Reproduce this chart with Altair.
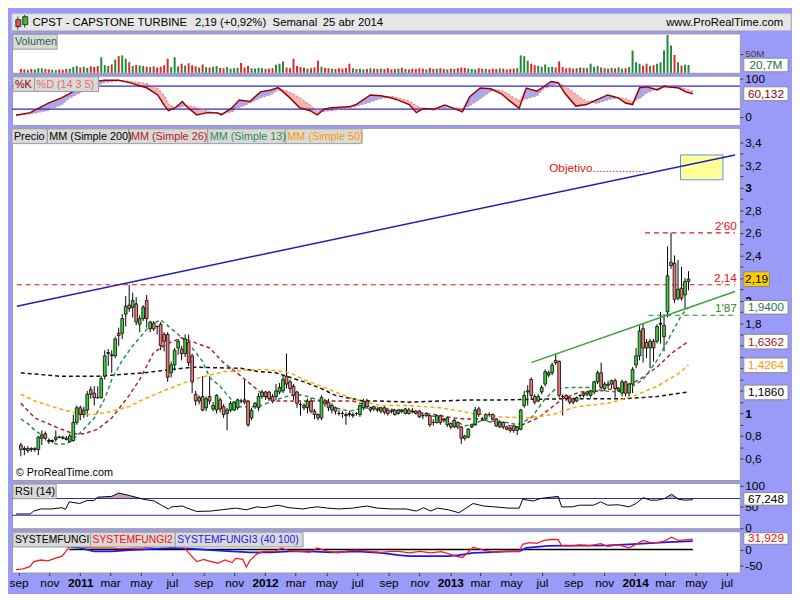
import altair as alt
import pandas as pd

FONT = "Liberation Sans"

# ---------------- weekly candles (CPST, Semanal) ----------------
first_week = "2010-08-27"
opens = [0.72,0.69,0.67,0.69,0.68,0.68,0.78,0.82,0.76,0.75,
         0.77,0.79,0.79,0.78,0.75,0.76,0.92,1.05,0.99,1.03,
         1.21,1.18,1.14,1.14,1.33,1.53,1.52,1.51,1.71,1.71,
         1.88,1.96,1.94,1.97,1.79,1.84,2.00,1.75,1.80,1.77,
         1.79,1.70,1.70,1.36,1.43,1.58,1.57,1.53,1.63,1.51,
         1.17,1.11,
         1.15,1.05,1.15,1.04,1.03,1.12,1.06,1.00,1.03,1.03,
         1.05,1.11,1.12,1.11,0.96,1.06,1.05,1.15,1.19,1.19,
         1.15,1.15,1.19,1.20,1.33,1.28,1.24,1.19,1.08,1.07,
         1.05,1.11,1.02,0.99,0.96,1.11,1.10,1.03,1.05,1.00,
         1.00,0.99,1.00,0.98,1.00,0.99,1.05,1.11,1.03,1.06,
         1.04,
         1.02,1.05,1.03,1.02,1.03,1.00,1.03,1.00,1.03,1.02,
         1.02,1.02,0.98,0.98,0.98,0.92,0.92,0.98,0.95,0.90,
         0.91,0.88,0.92,0.88,0.80,0.79,0.88,0.90,1.04,0.95,
         0.95,0.99,0.99,0.95,0.88,0.92,0.88,0.87,0.89,0.85,
         0.86,1.07,1.19,1.30,1.15,1.11,1.19,1.26,1.34,1.36,
         1.47,1.46,1.15,1.16,1.14,1.13,1.11,1.16,1.16,1.19,
         1.16,1.19,1.28,1.36,1.22,
         1.26,
         1.26,1.29,1.20,1.18,1.28,1.18,1.26,1.43,1.51,1.75,
         1.63,1.58,1.64,1.64,1.79,1.68,1.90,2.31,2.33,2.02,
         2.11,2.05,2.17]
highs = [0.74,0.71,0.71,0.70,0.70,0.80,0.85,0.84,0.78,0.77,
         0.85,0.80,0.80,0.80,0.82,0.99,1.07,1.07,1.06,1.20,
         1.24,1.24,1.24,1.33,1.56,1.57,1.56,1.68,1.76,1.88,
         2.04,2.14,2.07,2.03,1.87,1.96,2.05,1.82,1.82,1.78,
         1.81,1.72,1.72,1.46,1.58,1.66,1.60,1.70,1.70,1.53,
         1.20,1.16,
         1.33,1.15,1.33,1.10,1.17,1.14,1.08,1.05,1.11,1.11,
         1.13,1.13,1.30,1.12,1.05,1.10,1.18,1.21,1.20,1.20,
         1.17,1.26,1.27,1.33,1.53,1.30,1.26,1.20,1.10,1.09,
         1.13,1.14,1.04,1.00,1.16,1.13,1.13,1.09,1.06,1.03,
         1.02,1.01,1.02,1.01,1.01,1.08,1.13,1.13,1.06,1.07,
         1.06,
         1.06,1.07,1.05,1.04,1.04,1.04,1.04,1.05,1.05,1.05,
         1.03,1.03,1.00,1.01,0.99,0.95,0.99,0.99,0.96,0.97,
         0.92,0.95,0.93,0.89,0.81,0.87,0.91,1.06,1.06,0.97,
         1.00,1.01,1.00,0.96,0.94,0.93,0.89,0.88,0.90,0.89,
         1.04,1.20,1.25,1.32,1.17,1.17,1.25,1.39,1.38,1.45,
         1.53,1.47,1.17,1.17,1.15,1.14,1.15,1.17,1.19,1.20,
         1.21,1.29,1.38,1.45,1.28,
         1.29,
         1.30,1.31,1.23,1.30,1.29,1.27,1.41,1.58,1.78,1.80,
         1.66,1.66,1.66,1.79,1.90,1.88,2.48,2.60,2.40,2.36,
         2.30,2.20,2.26]
lows = [0.62,0.63,0.65,0.66,0.66,0.63,0.72,0.76,0.73,0.74,
        0.75,0.78,0.77,0.76,0.74,0.75,0.90,0.94,0.96,0.97,
        1.13,1.07,1.13,1.13,1.30,1.42,1.36,1.49,1.60,1.66,
        1.77,1.90,1.85,1.78,1.72,1.82,1.76,1.72,1.73,1.70,
        1.56,1.55,1.28,1.32,1.38,1.52,1.47,1.50,1.42,1.18,
        1.07,1.08,
        1.02,1.02,1.08,1.02,1.00,1.01,0.96,0.85,1.01,1.02,
        1.03,1.09,1.08,0.88,0.94,1.04,1.02,1.13,1.12,1.11,
        1.09,1.12,1.17,1.18,1.22,1.18,1.12,1.05,0.98,1.03,
        1.00,1.00,0.95,0.94,0.94,1.06,1.02,1.00,0.99,0.98,
        0.96,0.90,0.97,0.96,0.98,0.97,1.03,1.04,1.01,1.02,
        1.01,
        1.00,0.99,0.98,1.00,0.98,0.99,1.00,0.99,0.99,1.00,
        0.99,0.96,0.95,0.97,0.88,0.89,0.91,0.90,0.92,0.88,
        0.86,0.87,0.86,0.73,0.76,0.78,0.87,0.89,0.97,0.93,
        0.94,0.97,0.94,0.88,0.87,0.86,0.85,0.83,0.83,0.81,
        0.85,1.05,1.07,1.12,1.08,1.10,1.17,1.24,1.32,1.34,
        1.43,1.14,0.98,1.11,1.08,1.08,1.10,1.14,1.14,1.15,
        1.14,1.17,1.26,1.21,1.20,
        1.22,
        1.22,1.14,1.19,1.15,1.15,1.15,1.18,1.40,1.47,1.45,
        1.49,1.40,1.46,1.62,1.62,1.55,1.85,2.28,1.98,2.00,
        2.00,1.92,2.09]
closes = [0.68,0.68,0.69,0.68,0.69,0.79,0.81,0.78,0.75,0.76,
          0.79,0.79,0.78,0.77,0.80,0.92,1.05,0.99,1.03,1.17,
          1.17,1.14,1.14,1.31,1.51,1.54,1.51,1.66,1.69,1.84,
          1.95,1.93,2.00,1.81,1.84,1.94,1.84,1.81,1.75,1.77,
          1.60,1.64,1.32,1.43,1.56,1.64,1.53,1.66,1.45,1.28,
          1.11,1.14,
          1.03,1.13,1.11,1.07,1.16,1.04,0.99,1.03,1.09,1.10,
          1.12,1.11,1.10,0.90,1.03,1.09,1.15,1.19,1.15,1.13,
          1.11,1.20,1.23,1.30,1.26,1.22,1.16,1.09,1.08,1.05,
          1.11,1.02,0.99,0.96,1.14,1.09,1.05,1.07,1.02,1.00,
          1.00,0.98,0.99,0.99,1.00,1.07,1.11,1.06,1.05,1.04,
          1.03,
          1.05,1.01,1.00,1.02,0.99,1.03,1.02,1.04,1.00,1.02,
          1.00,0.97,0.98,1.00,0.90,0.92,0.98,0.92,0.94,0.96,
          0.88,0.94,0.88,0.78,0.78,0.86,0.90,1.03,0.99,0.95,
          0.99,0.99,0.95,0.89,0.92,0.88,0.86,0.85,0.85,0.88,
          1.03,1.16,1.20,1.16,1.10,1.15,1.23,1.37,1.36,1.43,
          1.45,1.16,1.15,1.13,1.10,1.10,1.14,1.16,1.18,1.17,
          1.20,1.28,1.36,1.23,1.26,
          1.25,
          1.29,1.22,1.22,1.28,1.18,1.26,1.39,1.51,1.73,1.58,
          1.58,1.64,1.58,1.77,1.80,1.78,2.22,2.34,2.01,2.10,
          2.02,2.17,2.19]
volumes_m = [10,9,8,10,9,12,12,10,9,8,7,9,8,10,11,
             15,18,14,16,13,17,16,18,
             41,
             20,18,22,
             35,44,46,37,28,18,21,19,18,
             16,15,17,14,16,20,
             37,
             15,41,17,24,19,25,20,17,
             14,
             22,15,14,16,18,13,12,15,11,12,13,
             26,
             14,18,12,11,13,12,10,11,12,
             21,24,30,14,12,
             37,
             18,15,13,11,12,14,
             32,
             16,13,12,11,10,12,11,13,
             24,
             12,10,11,9,10,12,11,
             10,
             11,10,12,9,10,11,13,10,9,11,10,12,11,9,13,10,11,12,10,9,
             11,10,12,14,13,11,10,9,12,11,10,9,11,10,12,11,9,10,11,12,
             46,44,32,24,20,18,16,22,15,16,14,30,15,12,13,11,12,14,13,12,24,16,18,14,12,
             11,
             13,12,14,11,12,15,
             59,28,24,19,24,18,20,24,28,59,100,72,47,28,19,21,20.7]

# moving averages (bar index, value)
ma200_idx = [0,11,22,35,49,63,68,73,77,81,86,90,95,98,103,111,120,129,138,155,173,182,191]
ma200_val = [1.36,1.33,1.33,1.36,1.41,1.40,1.37,1.36,1.32,1.28,1.22,1.16,1.13,1.11,1.11,1.10,1.11,1.12,1.12,1.13,1.13,1.15,1.19]
ma26_idx = [0,4,10,15,18,22,26,31,34,38,42,46,54,58,63,68,70,73,77,86,95,100,103,111,118,124,127,131,136,142,148,155,160,166,173,177,182,186,191]
ma26_val = [1.09,0.96,0.88,0.82,0.82,0.86,0.96,1.16,1.30,1.54,1.62,1.67,1.58,1.45,1.33,1.20,1.15,1.11,1.11,1.11,1.11,1.06,1.03,1.02,0.99,0.96,0.95,0.95,0.91,0.88,0.96,1.13,1.19,1.20,1.24,1.30,1.41,1.53,1.64]
ma13_idx = [0,2,4,7,10,13,15,18,21,24,26,29,32,34,37,40,45,49,52,54,57,60,62,68,72,77,79,82,86,90,94,98,102,111,116,120,125,127,129,132,136,139,142,146,150,153,157,164,166,171,175,178,182,186,189,191]
ma13_val = [0.95,0.91,0.85,0.79,0.73,0.73,0.77,0.86,0.96,1.13,1.30,1.47,1.60,1.67,1.78,1.83,1.70,1.58,1.46,1.32,1.24,1.13,1.06,1.06,1.11,1.16,1.17,1.15,1.11,1.05,1.02,1.05,1.05,1.02,0.99,0.96,0.92,0.89,0.90,0.94,0.93,0.92,0.90,0.96,1.13,1.22,1.23,1.23,1.20,1.19,1.24,1.30,1.47,1.70,1.87,1.94]
ma50_idx = [0,4,10,15,18,21,26,31,34,40,49,58,68,73,77,81,86,90,95,100,103,111,120,126,129,133,137,145,152,159,168,175,182,188,191]
ma50_val = [1.17,1.11,1.05,1.01,0.99,0.99,1.02,1.06,1.11,1.19,1.30,1.37,1.39,1.38,1.36,1.30,1.24,1.19,1.13,1.09,1.07,1.07,1.05,1.02,1.00,0.99,0.97,0.96,0.99,1.06,1.09,1.15,1.24,1.35,1.43]

# stochastic %K (14 3 5)
k_idx = [0,4,9,13,15,18,20,23,25,29,32,37,40,42,43,45,47,48,51,54,57,58,61,63,66,69,72,74,77,80,83,85,87,89,94,96,100,103,106,108,111,113,115,118,121,124,126,128,131,134,137,139,142,144,147,149,151,153,155,158,161,164,167,170,172,174,176,178,181,183,184,187,189,191]
k_val = [4,11,35,50,60,76,80,93,95,95,89,75,57,28,16,24,40,28,5,11,10,5,24,44,40,65,70,76,52,24,16,5,20,24,26,32,57,55,49,43,32,11,22,20,31,20,13,52,75,73,60,44,22,75,67,79,92,89,60,28,32,45,57,49,36,32,76,78,70,80,78,75,65,60]

# RSI (14)
rsi_idx = [0,4,5,7,10,13,14,15,18,20,22,23,27,29,32,36,39,41,43,44,47,48,51,55,58,62,65,68,70,74,77,81,83,85,88,91,95,99,102,106,110,113,115,117,119,122,125,127,129,132,135,139,142,143,146,148,151,153,154,157,159,163,165,167,170,173,175,177,179,181,183,185,187,189,191]
rsi_val = [33,33,40,45,45,48,44,62,58,65,65,73,75,83,77,68,64,54,45,50,52,48,39,40,43,47,43,50,48,54,48,45,48,50,47,45,47,52,47,45,45,40,48,40,47,43,36,47,58,52,50,47,47,68,64,70,73,75,50,50,54,54,62,54,55,50,58,72,66,66,70,80,68,66,67.2]

# SYSTEMFUNGI2 (red) and SYSTEMFUNGI3 (40 100) (blue)
sf2_idx = [0,2,4,5,7,9,11,13,15,16,18,21,24,27,29,36,41,44,47,49,51,53,54,57,59,61,62,64,65,66,68,70,73,75,77,80,83,85,88,91,94,96,100,103,106,108,111,114,117,120,122,124,126,127,129,132,135,137,139,142,143,145,147,149,151,153,154,157,159,162,165,167,170,173,175,177,179,181,183,185,187,189,191]
sf2_val = [-63,-61,-53,-38,-33,-36,-28,-21,7,11,9,5,5,5,2,5,11,11,11,-14,-38,-31,-35,-43,-33,-41,-28,-31,-55,-35,-14,-6,-6,5,-4,-6,-9,5,-6,-11,-4,-2,-6,-9,-6,-6,-11,-6,-11,-7,-13,-21,-25,-15,7,-2,-9,-6,-6,-6,16,21,19,28,31,31,11,11,14,12,18,10,14,5,16,28,21,21,26,38,28,30,32]
sf3_idx = [13,15,18,22,27,32,39,44,50,55,61,66,72,77,83,89,96,103,108,111,117,122,125,129,133,139,142,144,150,155,161,167,173,178,184,191]
sf3_val = [11,9,5,-6,-6,-2,2,5,2,-2,-6,-9,-9,-6,-6,-9,-6,-11,-18,-21,-21,-21,-18,-11,-9,-6,-6,5,11,12,12,13,16,19,23,26]

# ---------------------------------------------------------------
start = pd.Timestamp(first_week)


def wk(i):
    return (start + pd.Timedelta(days=7 * i)).strftime("%Y-%m-%d")


dates = [wk(i) for i in range(len(closes))]
ohlc = pd.DataFrame({"date": dates, "o": opens, "h": highs, "l": lows,
                     "c": closes, "vol": volumes_m})

W = 740
H_HDR, H_VOL, H_K, H_P, H_RSI, H_SF = 17, 40, 50, 358, 46, 42
GREEN, RED = "#3fd03f", "#f07a7a"
VGREEN, VRED = "#1f8a3a", "#e02626"

xscale = alt.Scale(type="utc", domain=[alt.DateTime(year=2010, month=8, date=19, utc=True),
                                        alt.DateTime(year=2014, month=7, date=27, utc=True)])

tick_vals = []
for yy in range(2010, 2015):
    for mm in (1, 3, 5, 7, 9, 11):
        if (yy == 2010 and mm < 9) or (yy == 2014 and mm > 7):
            continue
        tick_vals.append(alt.DateTime(year=yy, month=mm, date=1, utc=True))

xaxis = alt.Axis(values=tick_vals, title=None, grid=False, domain=False,
                 labelExpr="utcmonth(datum.value) == 0 ? utcFormat(datum.value, '%Y') : "
                           "['ene','feb','mar','abr','may','jun','jul','ago','sep','oct','nov','dic'][utcmonth(datum.value)]",
                 labelFontWeight={"condition": {"test": "utcmonth(datum.value) == 0", "value": "bold"},
                                  "value": "normal"},
                 labelFont=FONT, labelFontSize=12, labelColor="black", tickSize=3,
                 tickColor="#333333", labelFlush=False, labelOverlap=False, labelPadding=2)


def X(field="date", axis=None):
    return alt.X(f"{field}:T", scale=xscale, axis=axis, title=None)


def raxis(values, expr, size=12, color="black", bold_test=None):
    kw = dict(orient="right", values=values, labelExpr=expr, title=None, grid=False,
              domain=False, tickSize=3, tickColor="#333333", labelFont=FONT,
              labelFontSize=size, labelColor=color, labelPadding=2, labelOverlap=False,
              labelFlush=False)
    if bold_test:
        kw["labelFontWeight"] = {"condition": {"test": bold_test, "value": "bold"}, "value": "normal"}
    return alt.Axis(**kw)


one = pd.DataFrame({"a": [0]})


def tags(items, y0=1, y1=16, size=11):
    rects, texts = [], []
    for x0, x1, txt, col in items:
        rects.append(alt.Chart(one).mark_rect(fill="#d9d9d9", stroke="#9c9c9c", strokeWidth=1)
                     .encode(x=alt.value(x0), x2=alt.value(x1), y=alt.value(y0), y2=alt.value(y1)))
        texts.append(alt.Chart(one).mark_text(align="left", baseline="middle", font=FONT,
                                              fontSize=size, color=col)
                     .encode(x=alt.value(x0 + 2), y=alt.value((y0 + y1) / 2 + 0.5),
                             text=alt.value(txt)))
    return rects + texts


def vbox(value, text, ys, yax, half, txtcol="black", fill="white", x0=W + 4, x1=W + 49):
    df = pd.DataFrame({"v": [value], "lo": [value - half], "hi": [value + half], "t": [text]})
    r = alt.Chart(df).mark_rect(fill=fill, stroke="#8a8a8a", strokeWidth=1).encode(
        x=alt.value(x0), x2=alt.value(x1), y=alt.Y("lo:Q", scale=ys, axis=yax, title=None), y2="hi:Q")
    t = alt.Chart(df).mark_text(font=FONT, fontSize=12, color=txtcol, align="center",
                                baseline="middle").encode(
        x=alt.value((x0 + x1) / 2), y=alt.Y("v:Q", scale=ys, axis=yax, title=None), text="t:N")
    return [r, t]


candle_color = alt.condition("datum.c > datum.o", alt.value(GREEN), alt.value(RED))
vol_color = alt.condition("datum.c > datum.o", alt.value(VGREEN), alt.value(VRED))

# ---------------- header ----------------
hdr_bg = alt.Chart(one).mark_rect(fill="#e6e6e6", stroke="#c4c4c4").encode(
    x=alt.value(0), x2=alt.value(792), y=alt.value(0), y2=alt.value(H_HDR))
icon = [
    alt.Chart(one).mark_rule(color="#333333").encode(x=alt.value(6), y=alt.value(3), y2=alt.value(16)),
    alt.Chart(one).mark_rect(fill="#f05050", stroke="#333333").encode(
        x=alt.value(4), x2=alt.value(9), y=alt.value(6), y2=alt.value(13)),
    alt.Chart(one).mark_rule(color="#333333").encode(x=alt.value(13), y=alt.value(1), y2=alt.value(14)),
    alt.Chart(one).mark_rect(fill="#30c030", stroke="#333333").encode(
        x=alt.value(11), x2=alt.value(16), y=alt.value(3), y2=alt.value(11)),
]
hdr_txt = []
for xx, txt, al in [(21, "CPST - CAPSTONE TURBINE", "left"), (186, "2,19 (+0,92%)", "left"),
                    (265, "Semanal", "left"), (316, "25 abr 2014", "left"),
                    (784, "www.ProRealTime.com", "right")]:
    hdr_txt.append(alt.Chart(one).mark_text(align=al, baseline="middle", font=FONT, fontSize=11.5,
                                            color="black")
                   .encode(x=alt.value(xx), y=alt.value(9), text=alt.value(txt)))
header = alt.layer(hdr_bg, *icon, *hdr_txt).properties(width=W, height=H_HDR)

# ---------------- volume ----------------
vys = alt.Scale(domain=[0, 104], nice=False, zero=True)
vax = raxis([50], "'50M'", size=10, color="#444444")
vol_bars = alt.Chart(ohlc).mark_bar(size=2).encode(
    x=X(), y=alt.Y("vol:Q", scale=vys, axis=vax, title=None), color=vol_color)
vol = alt.layer(vol_bars, *vbox(20.7, "20,7M", vys, vax, 18, txtcol="#1f6b3f"),
                *tags([(1, 46, "Volumen", "#1f6b3f")])).properties(width=W, height=H_VOL)

# ---------------- stochastic ----------------
kys = alt.Scale(domain=[-21, 107], nice=False, zero=False)
kax = raxis([0, 100], "datum.value")
kdf = pd.DataFrame({"date": [wk(i) for i in k_idx], "k": k_val})
kbase = alt.Chart(kdf).transform_window(
    D="mean(k)", frame=[-2, 0], sort=[alt.SortField("date")]
).transform_calculate(hi="max(datum.k, datum.D)")
k_blue = kbase.mark_area(color="#a9a9ec").encode(
    x=X(), y=alt.Y("D:Q", scale=kys, axis=kax, title=None), y2="hi:Q")
k_pink = kbase.mark_area(color="#f3b4b4").encode(
    x=X(), y=alt.Y("k:Q", scale=kys, axis=kax, title=None), y2="hi:Q")
k_lines = alt.Chart(pd.DataFrame({"v": [20, 80]})).mark_rule(color="#2b2bd0", strokeWidth=1.2).encode(
    y=alt.Y("v:Q", scale=kys, axis=kax, title=None))
k_d = kbase.mark_line(color="#ee8080", strokeWidth=1.2, strokeDash=[2, 2]).encode(
    x=X(), y=alt.Y("D:Q", scale=kys, axis=kax, title=None))
k_k = kbase.mark_line(color="#990000", strokeWidth=1.5).encode(
    x=X(), y=alt.Y("k:Q", scale=kys, axis=kax, title=None))
kpanel = alt.layer(k_blue, k_pink, k_lines, k_d, k_k,
                   *vbox(60.132, "60,132", kys, kax, 18, txtcol="#990000"),
                   *tags([(1, 23, "%K", "#990000"), (23, 88, "%D (14 3 5)", "#e07070")])
                   ).properties(width=W, height=H_K)

# ---------------- price ----------------
pys = alt.Scale(domain=[0.41, 3.53], nice=False, zero=False)
pvals = [round(0.5 + 0.1 * i, 1) for i in range(1, 30)]
# labels hidden where the value boxes sit on top of them (1,2 / 1,4 / 1,6 / 2,2)
pax = raxis(
    pvals,
    "(round(datum.value*10) % 2 == 1 || indexof([12, 14, 16, 22], round(datum.value*10)) >= 0) ? '' : "
    "(abs(datum.value - round(datum.value)) < 0.01 ? "
    "format(datum.value, '.0f') : replace(format(datum.value, '.1f'), '.', ','))",
    bold_test="abs(datum.value - round(datum.value)) < 0.01")


def PY(field):
    return alt.Y(f"{field}:Q", scale=pys, axis=pax, title=None)


ma_rows = []
for name, idxs, vals, col in [("200", ma200_idx, ma200_val, "#111111"),
                              ("26", ma26_idx, ma26_val, "#b22222"),
                              ("13", ma13_idx, ma13_val, "#2e8b57"),
                              ("50", ma50_idx, ma50_val, "#ffa500")]:
    for i, v in zip(idxs, vals):
        ma_rows.append({"date": wk(i), "v": v, "ma": name, "col": col})
ma_df = pd.DataFrame(ma_rows)
ma_lines = alt.Chart(ma_df).mark_line(strokeWidth=1.5, strokeDash=[4, 3]).encode(
    x=X(), y=PY("v"), color=alt.Color("col:N", scale=None), detail="ma:N")

box_df = pd.DataFrame({"d1": [wk(188.8)], "d2": [wk(200.9)], "v1": [3.07], "v2": [3.29]})
target_box = alt.Chart(box_df).mark_rect(fill="#ffff99", stroke="#5c8ef0", strokeWidth=1).encode(
    x=X("d1"), x2="d2:T", y=PY("v1"), y2="v2:Q")

trend_df = pd.DataFrame({"date": ["2010-08-19", "2014-07-27", wk(146), "2014-07-27"],
                         "v": [1.95, 3.29, 1.45, 2.08],
                         "seg": ["azul", "azul", "verde", "verde"],
                         "col": ["#1f1fb8", "#1f1fb8", "#35a535", "#35a535"]})
trends = alt.Chart(trend_df).mark_line(strokeWidth=1.5).encode(
    x=X(), y=PY("v"), color=alt.Color("col:N", scale=None), detail="seg:N")

lvl_df = pd.DataFrame({"d1": ["2010-08-19", wk(178.6), wk(179.7)],
                       "d2": ["2014-07-27", "2014-07-27", "2014-07-27"],
                       "v": [2.14, 2.60, 1.87], "t": ["2,14", "2'60", "1'87"],
                       "col": ["#ee1111", "#ee1111", "#1f8a2a"]})
levels = alt.Chart(lvl_df).mark_rule(strokeWidth=1.2, strokeDash=[5, 4]).encode(
    x=X("d1"), x2="d2:T", y=PY("v"), color=alt.Color("col:N", scale=None))
level_txt = alt.Chart(lvl_df).mark_text(align="right", baseline="middle", font=FONT, fontSize=12,
                                         dy=-7).encode(
    x=alt.value(W - 3), y=PY("v"), text="t:N", color=alt.Color("col:N", scale=None))

obj_df = pd.DataFrame({"date": [wk(151.2)], "v": [3.17], "t": ["Objetivo................"]})
obj_txt = alt.Chart(obj_df).mark_text(align="left", baseline="middle", font=FONT, fontSize=12,
                                       color="#ee1111").encode(
    x=X(), y=PY("v"), text="t:N")

wicks = alt.Chart(ohlc).mark_rule(color="black", strokeWidth=1).encode(
    x=X(), y=PY("l"), y2="h:Q")
bodies = alt.Chart(ohlc).mark_bar(size=2.8, stroke="black", strokeWidth=0.8).encode(
    x=X(), y=PY("o"), y2="c:Q", color=candle_color)

copy_txt = alt.Chart(one).mark_text(align="left", baseline="middle", font=FONT, fontSize=11,
                                     color="black").encode(
    x=alt.value(4), y=alt.value(H_P - 7), text=alt.value("© ProRealTime.com"))

pboxes = (vbox(2.19, "2,19", pys, pax, 0.065, fill="#ffcc00", x1=W + 30)
          + vbox(1.94, "1,9400", pys, pax, 0.06, txtcol="#1f7a4a")
          + vbox(1.6362, "1,6362", pys, pax, 0.065, txtcol="#a01c1c")
          + vbox(1.4264, "1,4264", pys, pax, 0.065, txtcol="#ff9900")
          + vbox(1.186, "1,1860", pys, pax, 0.065, txtcol="black"))

price = alt.layer(
    wicks, ma_lines, target_box, trends, levels, level_txt, obj_txt, bodies, copy_txt, *pboxes,
    *tags([(0, 36, "Precio", "black"), (36, 119, "MM (Simple 200)", "black"),
           (119, 199, "MM (Simple 26)", "#b22222"), (199, 278, "MM (Simple 13)", "#2e8b57"),
           (278, 356, "MM (Simple 50)", "#ff9900")])
).properties(width=W, height=H_P)

# ---------------- RSI ----------------
rys = alt.Scale(domain=[-1, 107], nice=False, zero=False)
rax = raxis([0, 50, 100], "datum.value")
rdf = pd.DataFrame({"date": [wk(i) for i in rsi_idx], "r": rsi_val})
rbase = alt.Chart(rdf).transform_calculate(top="max(datum.r, 70)", b70="70")
r_fill = rbase.mark_area(color="#c9a3a3").encode(
    x=X(), y=alt.Y("top:Q", scale=rys, axis=rax, title=None), y2="b70:Q")
r_lines = alt.Chart(pd.DataFrame({"v": [30, 70]})).mark_rule(color="#2b2bd0", strokeWidth=1.2).encode(
    y=alt.Y("v:Q", scale=rys, axis=rax, title=None))
r_line = rbase.mark_line(color="black", strokeWidth=1).encode(
    x=X(), y=alt.Y("r:Q", scale=rys, axis=rax, title=None))
rpanel = alt.layer(r_fill, r_lines, r_line, *vbox(69, "67,248", rys, rax, 15),
                   *tags([(1, 45, "RSI (14)", "black")])).properties(width=W, height=H_RSI)

# ---------------- SYSTEMFUNGI ----------------
sys_ = alt.Scale(domain=[-72, 57], nice=False, zero=False)
sax = raxis([-50, 0], "datum.value")
zero_df = pd.DataFrame({"d1": [wk(15)], "d2": [wk(191)], "v": [0]})
s_zero = alt.Chart(zero_df).mark_rule(color="black", strokeWidth=1.5).encode(
    x=X("d1", axis=xaxis), x2="d2:T", y=alt.Y("v:Q", scale=sys_, axis=sax, title=None))
s2 = alt.Chart(pd.DataFrame({"date": [wk(i) for i in sf2_idx], "v": sf2_val})).mark_line(
    color="#ff1a1a", strokeWidth=1.3).encode(
    x=X(axis=xaxis), y=alt.Y("v:Q", scale=sys_, axis=sax, title=None))
s3 = alt.Chart(pd.DataFrame({"date": [wk(i) for i in sf3_idx], "v": sf3_val})).mark_line(
    color="#1a1aee", strokeWidth=1.8).encode(
    x=X(axis=xaxis), y=alt.Y("v:Q", scale=sys_, axis=sax, title=None))
spanel = alt.layer(s_zero, s3, s2, *vbox(34, "31,929", sys_, sax, 18, txtcol="#ee1111"),
                   *tags([(1, 80, "SYSTEMFUNGI", "black"), (80, 166, "SYSTEMFUNGI2", "#ee1111"),
                          (166, 296, "SYSTEMFUNGI3 (40 100)", "#1a1aee")], size=10.5)
                   ).properties(width=W, height=H_SF)

chart = alt.vconcat(header, vol, kpanel, price, rpanel, spanel, spacing=3).properties(
    background="#9a9af8", padding=0, bounds="flush"
).configure_view(stroke="#9a9a9a", fill="white").configure_axis(labelFont=FONT)

chart.save("out.html", embed_options={"renderer": "svg", "actions": False})
